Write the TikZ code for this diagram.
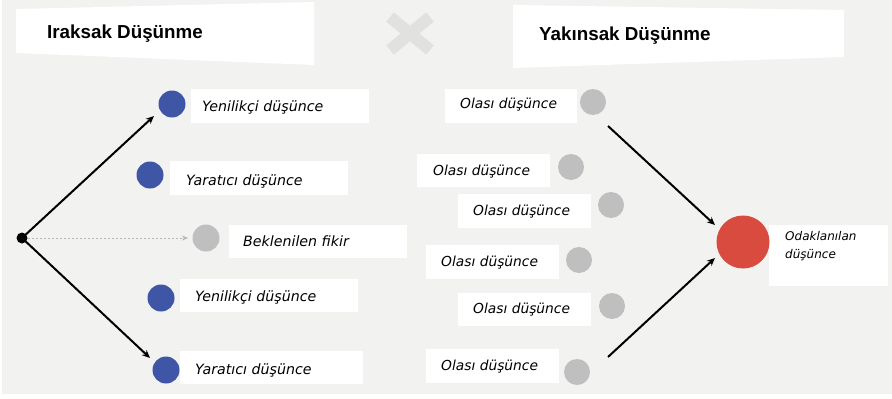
\documentclass[tikz,border=0pt]{standalone}
\usepackage{fontspec}
\setmainfont{Liberation Sans}
\newfontfamily\handfont{DejaVu Sans}
\usetikzlibrary{arrows.meta,calc}
\definecolor{bgc}{HTML}{F2F2F1}
\definecolor{xcol}{HTML}{E1E1E0}
\definecolor{bluec}{HTML}{3F55A6}
\definecolor{grayc}{HTML}{BEBFBE}
\definecolor{redc}{HTML}{D84B3E}
\definecolor{dotc}{HTML}{B5B5B5}
\tikzset{
  box/.style={fill=white, inner sep=0pt, anchor=north west},
  hand/.style={font=\handfont\itshape\fontsize{14.2}{17}\selectfont, anchor=west, inner sep=0pt},
  handr/.style={font=\handfont\itshape\fontsize{13.8}{16}\selectfont, anchor=west, inner sep=0pt},
  handsmall/.style={font=\handfont\itshape\fontsize{12}{18}\selectfont, anchor=north west, inner sep=0pt, align=left},
  title/.style={font=\bfseries\fontsize{18.8}{21}\selectfont, anchor=west, inner sep=0pt},
  bdot/.style={circle, fill=bluec, minimum size=27pt, inner sep=0pt},
  gdot/.style={circle, fill=grayc, minimum size=27pt, inner sep=0pt},
  arr/.style={-{Stealth[length=8pt,width=7pt]}, line width=2pt, black},
  darr/.style={-{Stealth[length=6pt,width=5pt]}, line width=1pt, dotc, dash pattern=on 2pt off 2pt},
}
\begin{document}
\begin{tikzpicture}[x=1pt,y=-1pt]
\useasboundingbox (0,0) rectangle (892,399);
\fill[white] (0,0) rectangle (892,399);
\fill[bgc] (2,0) rectangle (892,394);
% X mark
\draw[xcol, line width=12pt] (390,17) -- (430,50) (390,50) -- (430,17);
% title boxes
\fill[white] (16,9) -- (314,2) -- (314,65) -- (16,53) -- cycle;
\fill[white] (513,5) -- (844,10) -- (844,57) -- (513,68) -- cycle;
\node[title] (t1) at (47,34) {Iraksak Düşünme};
\node[title] (t2) at (539,36) {Yakınsak Düşünme};

% left side boxes
\node[box, minimum width=178pt, minimum height=34pt] (b1) at (191,89) {};
\node[box, minimum width=178pt, minimum height=34pt] (b2) at (170,161) {};
\node[box, minimum width=178pt, minimum height=33pt] (b3) at (229,225) {};
\node[box, minimum width=178pt, minimum height=33pt] (b4) at (180,279) {};
\node[box, minimum width=183pt, minimum height=33pt] (b5) at (180,351) {};
\node[hand] (l1) at (202,107) {Yenilikçi düşünce};
\node[hand] (l2) at (186,181) {Yaratıcı düşünce};
\node[hand] (l3) at (243,241) {Beklenilen fikir};
\node[hand] (l4) at (195,297) {Yenilikçi düşünce};
\node[hand] (l5) at (195,370) {Yaratıcı düşünce};

\node[bdot] (c1) at (172,104) {};
\node[bdot] (c2) at (150,175) {};
\node[gdot] (c3) at (206,238) {};
\node[bdot] (c4) at (161,298) {};
\node[bdot] (c5) at (166,370) {};

\node[circle, fill=black, minimum size=11pt, inner sep=0pt] (o) at (22,238) {};
\coordinate (e1) at (154,116);
\coordinate (e3) at (188,238);
\coordinate (e5) at (150,358);
\draw[arr] (o.center) -- (e1);
\draw[arr] (o.center) -- (e5);
\draw[darr] (o.east) -- (e3);

% right side boxes
\node[box, minimum width=132pt, minimum height=34pt] (r1) at (445,89) {};
\node[box, minimum width=133pt, minimum height=33pt] (r2) at (417,154) {};
\node[box, minimum width=133pt, minimum height=34pt] (r3) at (458,194) {};
\node[box, minimum width=133pt, minimum height=34pt] (r4) at (426,245) {};
\node[box, minimum width=133pt, minimum height=33pt] (r5) at (458,293) {};
\node[box, minimum width=133pt, minimum height=34pt] (r6) at (426,349) {};
\node[handr] (m1) at (460,105) {Olası düşünce};
\node[handr] (m2) at (433,172) {Olası düşünce};
\node[handr] (m3) at (473,212) {Olası düşünce};
\node[handr] (m4) at (441,263) {Olası düşünce};
\node[handr] (m5) at (473,310) {Olası düşünce};
\node[handr] (m6) at (441,367) {Olası düşünce};

\node[gdot, minimum size=26pt] (g1) at (593,102) {};
\node[gdot, minimum size=26pt] (g2) at (571,167) {};
\node[gdot, minimum size=26pt] (g3) at (611,205) {};
\node[gdot, minimum size=26pt] (g4) at (579,260) {};
\node[gdot, minimum size=26pt] (g5) at (612,306) {};
\node[gdot, minimum size=26pt] (g6) at (577,372) {};

\node[box, minimum width=119pt, minimum height=61pt] (rb) at (769,225) {};
\node[circle, fill=redc, minimum size=53pt, inner sep=0pt] (red) at (743,242) {};
\node[handsmall] (rt) at (785,231) {Odaklanılan\\düşünce};

\coordinate (s1) at (608,126);
\coordinate (f1) at (715,225);
\coordinate (s2) at (608,357);
\coordinate (f2) at (715,258);
\draw[arr] (s1) -- (f1);
\draw[arr] (s2) -- (f2);
\end{tikzpicture}
\end{document}
